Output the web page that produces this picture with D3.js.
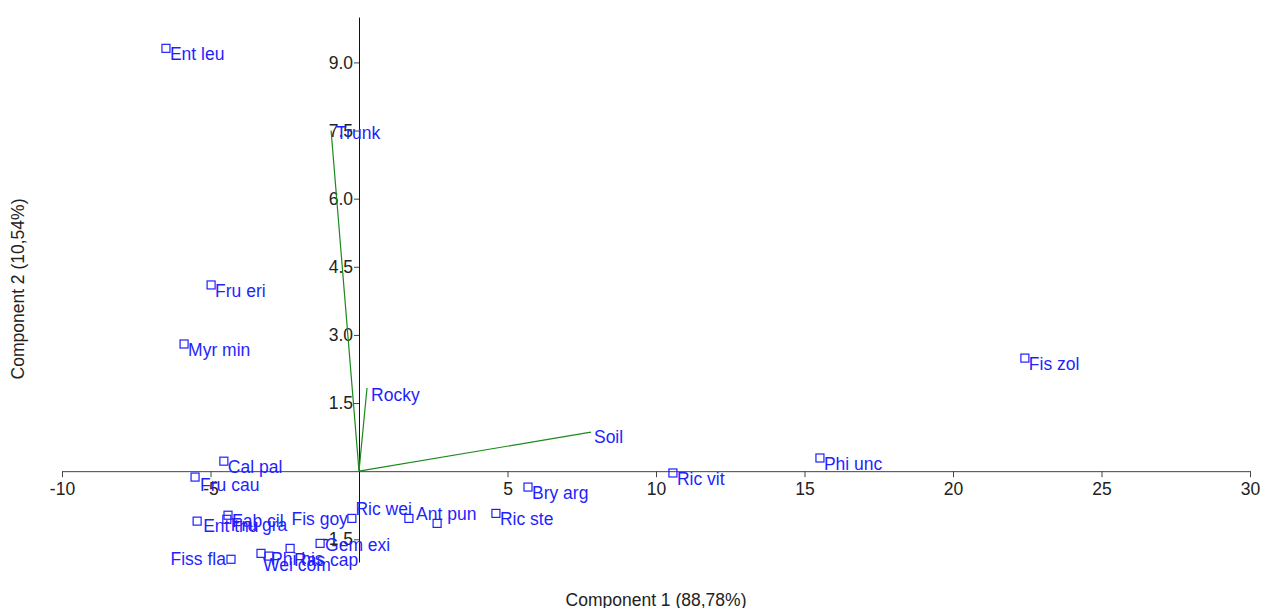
<!DOCTYPE html>
<html><head><meta charset="utf-8">
<script src="https://cdn.jsdelivr.net/npm/d3@7"></script>
<style>body{margin:0;background:#fff;} text{font-family:"Liberation Sans",Arial,sans-serif;}</style>
</head><body>
<svg id="c" width="1273" height="608"></svg>
<script>
// Species scores (component 1, component 2)
const species = ["Ent leu","Fru eri","Myr min","Fis zol","Phi unc","Ric vit","Bry arg","Ric ste","Cal pal","Fru cau","Fab cil","Ent thu","Fru gra","Fis goy","Ric wei","Ant pun","Gem exi","Ras cap","Phi his","Wei com","Fiss fla"];
const comp1 = [-6.50,-4.98,-5.89,22.42,15.52,10.57,5.69,4.61,-4.55,-5.52,-4.41,-5.45,-4.45,-0.24,1.68,2.63,-1.31,-2.32,-3.03,-3.30,-4.31];
const comp2 = [9.31,4.10,2.80,2.49,0.29,-0.04,-0.35,-0.93,0.22,-0.13,-0.97,-1.10,-1.06,-1.04,-1.04,-1.15,-1.59,-1.70,-1.87,-1.81,-1.94];
// Environmental vectors
const vars = ["Trunk","Rocky","Soil"];
const varComp1 = [-0.94,0.27,7.81];
const varComp2 = [7.50,1.83,0.86];
// Tick labels
const xTicks = [-10,-5,5,10,15,20,25,30];
const yTicks = [-1.5,1.5,3.0,4.5,6.0,7.5,9.0];
const xTitle = "Component 1 (88,78%)";
const yTitle = "Component 2 (10,54%)";

// label layout (presentation only): [dx, dy, anchor]
const labelLayout = {
  "Fru cau":[5,14,"start"],
  "Fiss fla":[-5,6,"end"],
  "Fis goy":[-4,7,"end"],
  "Ric wei":[3,-3,"end"],
  "Ant pun":[-21,-3,"start"],
  "Wei com":[2,18,"start"],
  "Phi his":[2,9,"start"],
  "Ras cap":[4,18,"start"],
  "Ent thu":[6,11,"start"],
  "Fru gra":[4,12,"start"],
  "Gem exi":[5,8,"start"]
};
const varLayout = {"Trunk":[5,8],"Rocky":[4,13],"Soil":[3,11]};

const FS = 17.5;
const svg = d3.select("#c");
const x = d3.scaleLinear().domain([-10,30]).range([62,1250]);
const y = d3.scaleLinear().domain([-2,10]).range([562,17]);
const blue = "#1f1fff";
const hy = v => String(v).replace("\u2212","-");

// X axis through y=0
const xa = svg.append("g").attr("transform",`translate(0,${y(0)})`)
  .call(d3.axisBottom(x).tickValues(xTicks).tickSize(6).tickSizeOuter(0).tickFormat(d => hy(d3.format("d")(d))));
xa.select(".domain").attr("stroke","#444");
xa.selectAll(".tick line").attr("stroke","#444");
xa.selectAll("text").attr("font-size",FS).attr("fill","#222").attr("dy","0.85em");

// Y axis through x=0
const ya = svg.append("g").attr("transform",`translate(${x(0)},0)`)
  .call(d3.axisLeft(y).tickValues(yTicks).tickSize(5).tickSizeOuter(0).tickFormat(d => hy(d3.format(".1f")(d))));
ya.select(".domain").attr("stroke","#111");
ya.selectAll(".tick line").attr("stroke","#444");
ya.selectAll("text").attr("font-size",FS).attr("fill","#222").attr("x",-6);

// vectors
svg.append("g").selectAll("line").data(vars).join("line")
  .attr("x1",x(0)).attr("y1",y(0))
  .attr("x2",(d,i)=>x(varComp1[i])).attr("y2",(d,i)=>y(varComp2[i]))
  .attr("stroke","#1a8a1a").attr("stroke-width",1.2);
svg.append("g").selectAll("text").data(vars).join("text")
  .attr("x",(d,i)=>x(varComp1[i])+varLayout[d][0]).attr("y",(d,i)=>y(varComp2[i])+varLayout[d][1])
  .attr("font-size",FS).attr("fill",blue).text(d=>d);

// points
svg.append("g").selectAll("rect").data(species).join("rect")
  .attr("x",(d,i)=>x(comp1[i])-4).attr("y",(d,i)=>y(comp2[i])-4)
  .attr("width",8).attr("height",8).attr("fill","none").attr("stroke",blue).attr("stroke-width",1.2);
svg.append("g").selectAll("text").data(species).join("text")
  .attr("x",(d,i)=>x(comp1[i])+(labelLayout[d]?labelLayout[d][0]:4))
  .attr("y",(d,i)=>y(comp2[i])+(labelLayout[d]?labelLayout[d][1]:12))
  .attr("text-anchor",d=>labelLayout[d]?labelLayout[d][2]:"start")
  .attr("font-size",FS).attr("fill",blue).text(d=>d);

// titles
svg.append("text").attr("x",656).attr("y",606).attr("text-anchor","middle")
  .attr("font-size",FS).attr("fill","#222").text(xTitle);
svg.append("text").attr("transform","translate(24,289) rotate(-90)").attr("text-anchor","middle")
  .attr("font-size",FS).attr("fill","#222").text(yTitle);
</script>
</body></html>
